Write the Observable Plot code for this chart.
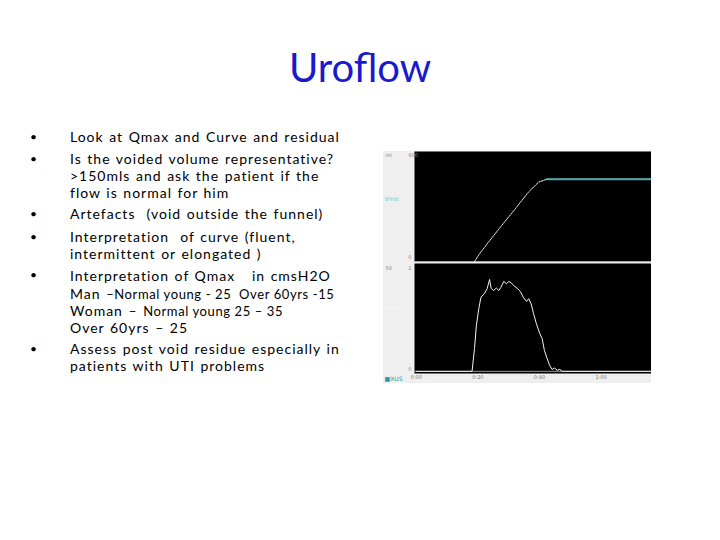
<!DOCTYPE html>
<html>
<head>
<meta charset="utf-8">
<script src="https://cdn.jsdelivr.net/npm/d3@7"></script>
<script src="https://cdn.jsdelivr.net/npm/@observablehq/plot@0.6"></script>
<style>
  html, body { margin: 0; padding: 0; background: #ffffff; }
  body { width: 720px; height: 540px; position: relative; overflow: hidden; font-family: Lato, "Open Sans", sans-serif; }
  #title { position: absolute; left: 0; width: 720px; top: 40px; text-align: center; font-size: 40px; color: #1a1acc; line-height: 54px; }
  .b { position: absolute; left: 0; width: 380px; font-size: 14px; line-height: 17px; color: #000; letter-spacing: 1px; word-spacing: 1px; }
  .b .dot { position: absolute; left: 30px; top: 0; font-size: 12px; }
  .b .txt { position: absolute; left: 70px; top: 0; width: 310px; }
  .b .ln { white-space: pre; }
  .sm { font-size: 13px; letter-spacing: 0.6px; word-spacing: 0px; }
  .panel { position: absolute; left: 383px; }
  .panel svg { display: block; }
</style>
</head>
<body>
<div id="title">Uroflow</div>
<div id="bullets"></div>
<div class="panel" id="vol" style="top:151px"></div>
<div class="panel" id="flow" style="top:262px"></div>
<script>
// ---- slide text ----
const bullets = [
  ["Look at Qmax and Curve and residual"],
  ["Is the voided volume representative?", ">150mls and ask the patient if the", "flow is normal for him"],
  ["Artefacts  (void outside the funnel)"],
  ["Interpretation  of curve (fluent,", "intermittent or elongated )"],
  ["Interpretation of Qmax   in cmsH2O",
   "<span>Man </span><span class='sm'>\u2013Normal young - 25  Over 60yrs -15</span>",
   "<span>Woman \u2013 </span><span class='sm'>Normal young 25 \u2013 35</span>",
   "Over 60yrs \u2013 25"],
  ["Assess post void residue especially in", "patients with UTI problems"]
];
const bulletTops = [128, 150, 205, 228, 266, 340];
const bullet5LineHeights = [19, 17, 17, 17];

// ---- chart data (time in s) ----
const volTime  = [0, 18.9, 20.5, 23.4, 27.7, 32.1, 36.4, 39.7, 42.4, 76.4];
const volValue = [0, 0, 42, 105, 196, 287, 378, 433, 449, 449];

const flowTime = [0, 18.1, 18.9, 19.5, 20.3, 21.0, 22.1, 23.0, 23.8, 24.3, 25.1, 26.0, 26.8, 27.5, 28.4, 29.3, 30.0, 30.8, 31.6, 32.7, 33.8, 34.7, 35.8, 36.5, 37.3, 38.1, 39.0, 40.1, 40.9, 41.6, 42.5, 43.3, 44.1, 44.9, 45.8, 46.6, 47.4, 76.4];
const flowValue = [0, 0, 10.6, 21.3, 29.2, 34.4, 36.0, 38.3, 42.6, 38.4, 37.5, 38.6, 37.5, 39.0, 41.7, 40.6, 41.7, 41.1, 39.8, 38.6, 37.0, 34.4, 32.4, 33.7, 31.3, 26.7, 22.1, 17.5, 15.1, 9.7, 5.9, 2.8, 0.9, 1.5, 0.5, 0.9, 0, 0];

const timeTicks = [0, 20, 40, 60];
const timeTickLabels = ["0:00", "0:20", "0:40", "1:00"];

// ---- build bullets ----
const bc = document.getElementById("bullets");
bullets.forEach((lines, i) => {
  const d = document.createElement("div");
  d.className = "b";
  d.style.top = bulletTops[i] + "px";
  const lh = j => (i === 4 ? bullet5LineHeights[j] : 17);
  d.innerHTML = `<span class="dot">\u2022</span><div class="txt">${
    lines.map((l, j) => `<div class="ln" style="height:${lh(j)}px;line-height:${lh(j)}px">${l}</div>`).join("")
  }</div>`;
  bc.appendChild(d);
});

const vol = volTime.map((t, i) => ({t, v: volValue[i]}));
const flow = flowTime.map((t, i) => ({t, f: flowValue[i]}));
const xDomain = [-0.6, 76.4];
const plateauStart = 42.4;

// ---- volume panel ----
const volPlot = Plot.plot({
  width: 268, height: 111,
  marginLeft: 31, marginRight: 0, marginTop: 0, marginBottom: 0,
  x: {domain: xDomain, axis: null},
  y: {domain: [-5, 600], axis: null},
  style: {background: "#efefef", fontFamily: "DejaVu Sans", fontSize: "5px"},
  marks: [
    Plot.frame({fill: "black", stroke: null}),
    Plot.ruleY([0], {stroke: "#b0b0b0", strokeWidth: 1}),
    Plot.line(vol, {x: "t", y: d => d.t >= 18.9 ? d.v : NaN, stroke: "#d6eeee", strokeWidth: 1, strokeDasharray: "2,1"}),
    Plot.line(vol, {x: "t", y: d => d.t >= plateauStart ? d.v : NaN, stroke: "#4fa9a9", strokeWidth: 2}),
    Plot.text(["ml"], {frameAnchor: "top-left", dx: -29, dy: 2, fill: "#888", fontSize: 5, textAnchor: "start"}),
    Plot.text(["600"], {frameAnchor: "top-left", dx: -6, dy: 2, fill: "#888", fontSize: 5, textAnchor: "start"}),
    Plot.text(["Vmic"], {frameAnchor: "left", dx: -30, dy: -8, fill: "#3fd8e0", fontSize: 6, textAnchor: "start"}),
    Plot.text(["0"], {frameAnchor: "bottom-left", dx: -3, dy: -4, fill: "#888", fontSize: 5, textAnchor: "end"})
  ]
});
document.getElementById("vol").appendChild(volPlot);

// ---- flow panel ----
const flowPlot = Plot.plot({
  width: 268, height: 121,
  marginLeft: 31, marginRight: 0, marginTop: 1, marginBottom: 10,
  x: {domain: xDomain, ticks: timeTicks, tickFormat: (d, i) => timeTickLabels[i], tickSize: 0, tickPadding: 2, label: null},
  y: {domain: [-1, 50], axis: null},
  style: {background: "#efefef", fontFamily: "DejaVu Sans", fontSize: "5px", color: "#777"},
  marks: [
    Plot.frame({fill: "black", stroke: null}),
    Plot.ruleY([0], {stroke: "#9a9a9a", strokeWidth: 1}),
    Plot.line(flow, {x: "t", y: "f", stroke: "#f4f4f4", strokeWidth: 1}),
    Plot.text(["50"], {frameAnchor: "top-left", dx: -29, dy: 3, fill: "#888", fontSize: 5, textAnchor: "start"}),
    Plot.text(["2"], {frameAnchor: "top-left", dx: -3, dy: 3, fill: "#888", fontSize: 5, textAnchor: "end"}),
    Plot.text(["Qura"], {frameAnchor: "left", dx: -30, dy: -10, fill: "#f8f8f8", fontSize: 6, textAnchor: "start"}),
    Plot.text(["0"], {frameAnchor: "bottom-left", dx: -3, dy: -3, fill: "#888", fontSize: 5, textAnchor: "end"}),
    Plot.text(["\u25A0XUS"], {frameAnchor: "bottom-left", dx: -30, dy: 7, fill: "#2a9aa8", fontSize: 6, textAnchor: "start"})
  ]
});
document.getElementById("flow").appendChild(flowPlot);
</script>
</body>
</html>
